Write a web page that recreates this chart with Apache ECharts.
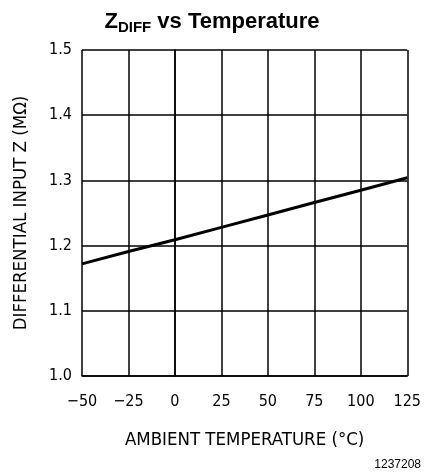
<!DOCTYPE html>
<html>
<head>
<meta charset="utf-8">
<script src="https://cdn.jsdelivr.net/npm/echarts@6/dist/echarts.min.js"></script>
<style>
  html, body { margin: 0; padding: 0; background: #fff; }
  #chart { width: 424px; height: 475px; }
</style>
</head>
<body>
<div id="chart"></div>
<script>
// temperature (°C) vs differential input impedance (MΩ)
var temps = [-50, -25, 0, 25, 50, 75, 100, 125];
var zdiff = [1.172, 1.191, 1.209, 1.228, 1.247, 1.266, 1.285, 1.304];
var xTicks = [-50, -25, 0, 25, 50, 75, 100, 125];
var yTicks = [1.0, 1.1, 1.2, 1.3, 1.4, 1.5];

var chart = echarts.init(document.getElementById('chart'));
var tickFont = '"Liberation Sans Narrow", "DejaVu Sans Condensed", sans-serif';

var option = {
  backgroundColor: '#fff',
  animation: false,
  title: {
    text: '{z|Z}{sub|DIFF}{z| vs Temperature}',
    left: 'center',
    top: 3,
    textStyle: {
      rich: {
        z: { fontFamily: 'Liberation Sans, Arial, sans-serif', fontWeight: 'bold', fontSize: 22, color: '#000' },
        sub: { fontFamily: 'Liberation Sans, Arial, sans-serif', fontWeight: 'bold', fontSize: 15, color: '#000', padding: [12, 0, 0, 0] }
      }
    }
  },
  grid: { left: 82, right: 15, top: 50, bottom: 99 },
  xAxis: {
    type: 'value',
    min: -50, max: 125, interval: 25,
    name: 'AMBIENT TEMPERATURE (°C)',
    nameLocation: 'middle',
    nameGap: 55,
    nameTextStyle: { fontFamily: tickFont, fontSize: 18.5, color: '#000' },
    axisLine: { lineStyle: { color: '#000', width: 1.5 } },
    axisTick: { show: false },
    axisLabel: {
      margin: 18,
      fontFamily: tickFont, fontSize: 16, color: '#000',
      formatter: function (v) { return String(v).replace('-', '\u2212'); }
    },
    splitLine: { lineStyle: { color: '#000', width: 1.5 } }
  },
  yAxis: {
    type: 'value',
    min: 1.0, max: 1.5, interval: 0.1,
    name: 'DIFFERENTIAL INPUT Z (M\u03A9)',
    nameLocation: 'middle',
    nameGap: 51,
    nameTextStyle: { fontFamily: tickFont, fontSize: 18.5, color: '#000' },
    axisLine: { show: true, lineStyle: { color: '#000', width: 1.5 } },
    axisTick: { show: false },
    axisLabel: {
      margin: 10,
      fontFamily: tickFont, fontSize: 16, color: '#000',
      formatter: function (v) { return v.toFixed(1); }
    },
    splitLine: { lineStyle: { color: '#000', width: 1.5 } }
  },
  graphic: [{
    type: 'text',
    right: 3,
    bottom: 4,
    style: { text: '1237208', font: '12px "Liberation Sans", Arial, sans-serif', fill: '#000' }
  }],
  series: [{
    type: 'line',
    data: temps.map(function (t, i) { return [t, zdiff[i]]; }),
    showSymbol: false,
    lineStyle: { color: '#000', width: 3 }
  }]
};
chart.setOption(option);
</script>
</body>
</html>
